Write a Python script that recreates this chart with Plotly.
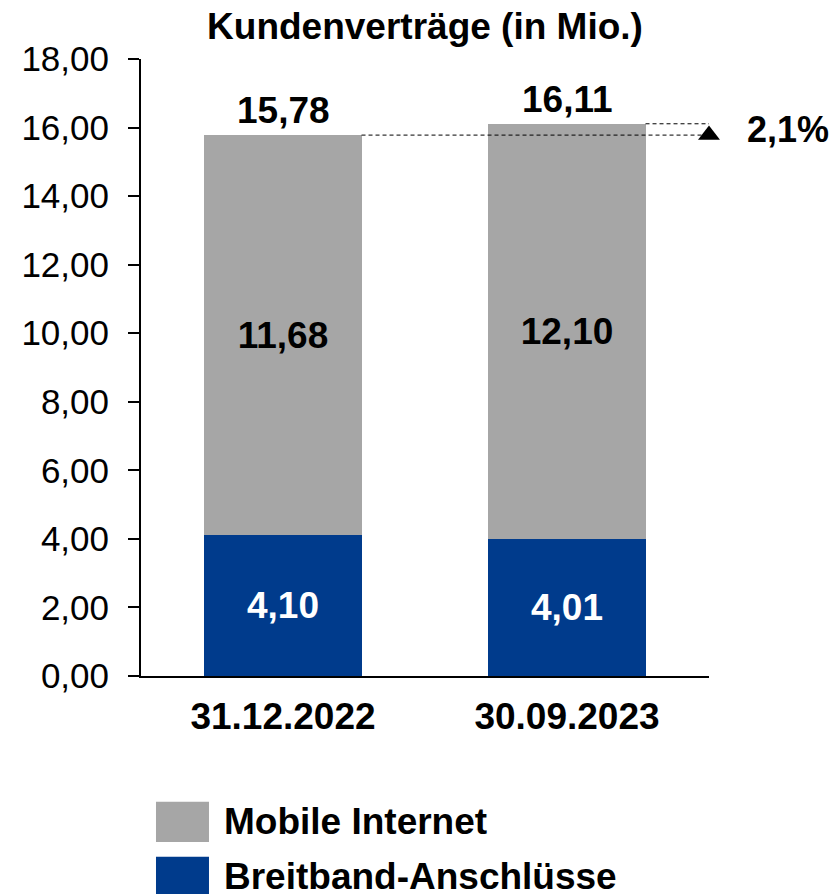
"""Kundenverträge (in Mio.) - stacked bar chart."""

import plotly.graph_objects as go

# data
dates = ["31.12.2022", "30.09.2023"]
breitband = [4.10, 4.01]
mobile = [11.68, 12.10]
series_names = ["Mobile Internet", "Breitband-Anschlüsse"]
title_text = "Kundenverträge (in Mio.)"

totals = [round(b + m, 2) for b, m in zip(breitband, mobile)]
growth = (totals[1] / totals[0] - 1) * 100

GREY = "#A6A6A6"
BLUE = "#003B8C"
FONT = "Liberation Sans, Arial, sans-serif"
BAR_W = 0.553
W, H = 830, 886


def de(v, nd=2):
    return f"{v:.{nd}f}".replace(".", ",")


x = list(range(len(dates)))

fig = go.Figure()

fig.add_trace(
    go.Bar(
        x=x,
        y=breitband,
        name=series_names[1],
        marker=dict(color=BLUE, line=dict(width=0)),
        width=BAR_W,
        texttemplate="%{y:.2f}",
        textposition="inside",
        insidetextanchor="middle",
        textangle=0,
        constraintext="none",
        textfont=dict(color="white", size=37, family=FONT, weight="bold"),
    )
)

fig.add_trace(
    go.Bar(
        x=x,
        y=mobile,
        name=series_names[0],
        marker=dict(color=GREY, line=dict(width=0)),
        width=BAR_W,
        texttemplate="%{y:.2f}",
        textposition="inside",
        insidetextanchor="middle",
        textangle=0,
        constraintext="none",
        textfont=dict(color="black", size=37, family=FONT, weight="bold"),
    )
)

# growth marker at the right edge
fig.add_trace(
    go.Scatter(
        x=[max(x) + 0.5],
        y=[totals[0]],
        mode="markers",
        marker=dict(symbol="triangle-up", size=19, color="black"),
        cliponaxis=False,
        showlegend=False,
        hoverinfo="skip",
    )
)

# totals above bars
for xi, t in zip(x, totals):
    fig.add_annotation(
        x=xi,
        y=t,
        text=f"<b>{de(t)}</b>",
        showarrow=False,
        yanchor="bottom",
        yshift=2,
        font=dict(size=37, color="black", family=FONT),
    )

# dashed reference lines
for xi, t in zip(x, totals):
    fig.add_shape(
        type="line",
        xref="x",
        yref="y",
        x0=xi + BAR_W / 2,
        x1=1.53,
        y0=t,
        y1=t,
        line=dict(color="black", width=1, dash="4px,3px"),
    )

fig.add_annotation(
    x=1.064,
    xref="paper",
    y=sum(totals) / 2,
    yref="y",
    text=f"<b>{de(growth, 1)}%</b>",
    showarrow=False,
    xanchor="left",
    yanchor="middle",
    font=dict(size=36, color="black", family=FONT),
)

# legend drawn as large swatches
legend_items = [(series_names[0], GREY, -0.204), (series_names[1], BLUE, -0.293)]
for name, color, ytop in legend_items:
    fig.add_shape(
        type="rect",
        xref="paper",
        yref="paper",
        x0=0.0264,
        x1=0.1197,
        y0=ytop,
        y1=ytop - 0.065,
        fillcolor=color,
        line=dict(width=0),
    )
    fig.add_annotation(
        x=0.1426,
        xref="paper",
        y=ytop - 0.0325,
        yref="paper",
        text=f"<b>{name}</b>",
        showarrow=False,
        xanchor="left",
        yanchor="middle",
        font=dict(size=37, color="black", family=FONT),
    )

fig.update_layout(
    width=W,
    height=H,
    margin=dict(l=133, r=129, t=51, b=218),
    barmode="stack",
    bargap=0,
    separators=",.",
    showlegend=False,
    plot_bgcolor="white",
    paper_bgcolor="white",
    font=dict(family=FONT, color="black"),
    title=dict(
        text=f"<b>{title_text}</b>",
        x=0.5,
        xref="paper",
        y=1 - 18 / H,
        yref="container",
        xanchor="center",
        yanchor="middle",
        font=dict(size=37, color="black", family=FONT),
    ),
)

fig.update_xaxes(
    range=[-0.5, 1.5],
    tickvals=x,
    ticktext=[f"<b>{d}</b>" for d in dates],
    tickfont=dict(size=37, color="black", family=FONT),
    showline=True,
    linecolor="black",
    linewidth=2,
    ticks="",
    showgrid=False,
    zeroline=False,
    ticklabelstandoff=7,
)

fig.update_yaxes(
    range=[0, 18],
    dtick=2,
    tickformat=".2f",
    tickfont=dict(size=35, color="black", family=FONT),
    showline=True,
    linecolor="black",
    linewidth=2,
    ticks="outside",
    ticklen=11,
    tickwidth=2,
    tickcolor="black",
    showgrid=False,
    zeroline=False,
    ticklabelstandoff=12,
)

fig.write_html("out.html")
